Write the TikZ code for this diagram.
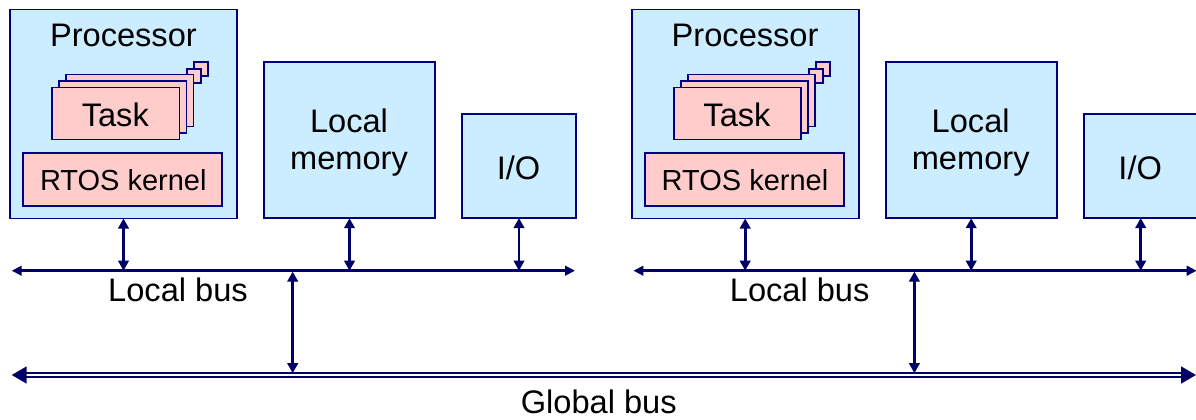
\documentclass[tikz,border=0pt]{standalone}
\usepackage{fontspec}
\setmainfont{Liberation Sans}
\usetikzlibrary{arrows.meta}
\definecolor{boxblue}{RGB}{204,236,255}
\definecolor{boxpink}{RGB}{255,204,204}
\definecolor{edgenavy}{RGB}{0,0,128}
\definecolor{busnavy}{RGB}{0,0,102}
\begin{document}
\begin{tikzpicture}[x=0.5pt,y=-0.5pt,
  blk/.style={draw=edgenavy, fill=boxblue, line width=0.9pt, inner sep=0pt, outer sep=0pt},
  pk/.style={draw=edgenavy, fill=boxpink, line width=0.9pt, inner sep=0pt, outer sep=0pt},
  txt/.style={font=\fontsize{16.3}{18.5}\selectfont, inner sep=0pt, anchor=base},
  smalltxt/.style={font=\fontsize{14.5}{17}\selectfont, inner sep=0pt, anchor=base},
  link/.style={busnavy, line width=1.4pt,
    {Triangle[length=5pt,width=5.2pt]}-{Triangle[length=5pt,width=5.2pt]}},
  localbus/.style={busnavy, line width=1.4pt,
    {Triangle[length=5pt,width=4.8pt]}-{Triangle[length=5pt,width=4.8pt]}},
  globalbus/.style={busnavy, line width=0.85pt, double=white, double distance=0.85pt,
    {Triangle[length=7.5pt,width=8.5pt]}-{Triangle[length=7.5pt,width=8.5pt]}}
]
\useasboundingbox (0,0) rectangle (1196,419);
\clip (0,0) rectangle (1196,419);

% global bus shared by both nodes
\coordinate (gL) at (11.7,375);
\coordinate (gR) at (1196,375);
\draw[globalbus] (gL) -- (gR);
\node[txt] (glbl) at (598.7,413) {Global bus};

% two identical processing nodes
\foreach \s/\ox in {a/0,b/621.7}{
\begin{scope}[shift={(\ox,0)}]
  % processor with task stack and kernel
  \node[blk, minimum width=113.5pt, minimum height=104.5pt] (\s-proc) at (123.5,114) {};
  \node[txt] (\s-proclbl) at (123.4,46) {Processor};
  \node[pk, minimum size=7pt] (\s-sq5) at (201,69) {};
  \node[pk, minimum size=7pt] (\s-sq4) at (194,76) {};
  \node[pk, minimum width=63.75pt, minimum height=26pt] (\s-task3) at (129.75,100.5) {};
  \node[pk, minimum width=63.75pt, minimum height=26pt] (\s-task2) at (122.75,107) {};
  \node[pk, minimum width=63.75pt, minimum height=26pt] (\s-task1) at (115.75,113.5) {};
  \node[txt] (\s-tasklbl) at (115.3,126) {Task};
  \node[pk, minimum width=99.5pt, minimum height=26.5pt] (\s-rtos) at (122.5,179.5) {};
  \node[smalltxt] (\s-rtoslbl) at (123.3,190.7) {RTOS kernel};

  % local memory
  \node[blk, minimum width=85.5pt, minimum height=78pt] (\s-mem) at (349.5,140.2) {};
  \node[txt] (\s-memlbl1) at (349,132.3) {Local};
  \node[txt] (\s-memlbl2) at (349,169.3) {memory};

  % I/O
  \node[blk, minimum width=57pt, minimum height=52pt] (\s-io) at (519,166) {};
  \node[txt] (\s-iolbl) at (518.5,179) {I/O};

  % local bus
  \coordinate (\s-busL) at (11.7,270.7);
  \coordinate (\s-busR) at (575,270.7);
  \draw[localbus] (\s-busL) -- (\s-busR);
  \node[txt] (\s-buslbl) at (178,301.7) {Local bus};

  % connections to the local bus
  \draw[link] (\s-proc.south) -- (\s-proc.south |- \s-busL);
  \draw[link] (\s-mem.south) -- (\s-mem.south |- \s-busL);
  \draw[link] (\s-io.south) -- (\s-io.south |- \s-busL);

  % bridge from the local bus to the global bus
  \coordinate (\s-gtop) at (292.7,271.6);
  \coordinate (\s-gbot) at (292.7,373.2);
  \draw[link] (\s-gtop) -- (\s-gbot);
\end{scope}
}
\end{tikzpicture}
\end{document}
